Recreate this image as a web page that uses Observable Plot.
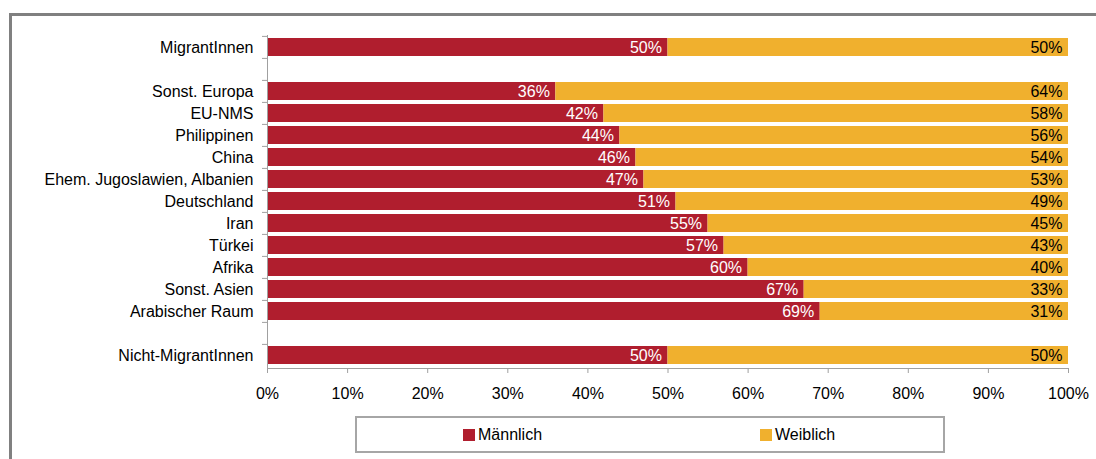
<!DOCTYPE html>
<html>
<head>
<meta charset="utf-8">
<script src="https://cdn.jsdelivr.net/npm/d3@7"></script>
<script src="https://cdn.jsdelivr.net/npm/@observablehq/plot@0.6"></script>
<style>
  body { margin: 0; overflow: hidden; background: #fff; font-family: "Liberation Sans", Arial, sans-serif; }
  #wrap { position: relative; width: 1096px; height: 459px; overflow: hidden; }
  #frame { position: absolute; left: 9px; top: 13px; width: 2000px; height: 1000px;
           border-top: 3px solid #808080; border-left: 3px solid #808080; }
  #chart { position: absolute; left: 0; top: 0; }
  #legend { position: absolute; left: 355px; top: 416px; width: 590px; height: 37px;
            border: 2px solid #a6a6a6; box-sizing: border-box; background: #fff; }
  .item { position: absolute; top: 0; height: 33px; display: flex; align-items: center;
          font-size: 16px; color: #000; }
  .sw { width: 12px; height: 12px; margin-right: 3px; }
</style>
</head>
<body>
<div id="wrap">
  <div id="frame"></div>
  <div id="chart"></div>
  <div id="legend"></div>
</div>
<script>
// Row order (top to bottom), including two empty spacer rows
const categories = ["MigrantInnen", "gap1", "Sonst. Europa", "EU-NMS", "Philippinen", "China",
  "Ehem. Jugoslawien, Albanien", "Deutschland", "Iran", "Türkei", "Afrika", "Sonst. Asien",
  "Arabischer Raum", "gap2", "Nicht-MigrantInnen"];
// Groups with data
const groups = ["MigrantInnen", "Sonst. Europa", "EU-NMS", "Philippinen", "China",
  "Ehem. Jugoslawien, Albanien", "Deutschland", "Iran", "Türkei", "Afrika", "Sonst. Asien",
  "Arabischer Raum", "Nicht-MigrantInnen"];
const maennlich = [50, 36, 42, 44, 46, 47, 51, 55, 57, 60, 67, 69, 50];
const weiblich  = [50, 64, 58, 56, 54, 53, 49, 45, 43, 40, 33, 31, 50];
const series = ["Männlich", "Weiblich"];
const colors = ["#B01E2E", "#F0B02E"];
const xTicks = [0, 10, 20, 30, 40, 50, 60, 70, 80, 90, 100];

const rows = [];
groups.forEach((g, i) => {
  rows.push({cat: g, sex: series[0], x1: 0, x2: maennlich[i], value: maennlich[i]});
  rows.push({cat: g, sex: series[1], x1: maennlich[i], x2: maennlich[i] + weiblich[i], value: weiblich[i]});
});

const axisGray = "#a0a0a0";
const chart = Plot.plot({
  width: 1096,
  height: 410,
  marginLeft: 267,
  marginRight: 28,
  marginTop: 35,
  marginBottom: 42,
  style: {fontFamily: "'Liberation Sans', Arial, sans-serif", fontSize: "16px", color: "#000", background: "transparent"},
  x: {domain: [0, 100]},
  y: {domain: categories, paddingInner: 0.18, paddingOuter: 0.09},
  color: {domain: series, range: colors},
  marks: [
    Plot.barX(rows, {y: "cat", x1: "x1", x2: "x2", fill: "sex"}),
    Plot.text(rows.filter(d => d.sex === series[0]), {y: "cat", x: "x2", text: d => d.value + "%",
      textAnchor: "end", dx: -6, fill: "white", fontSize: 16}),
    Plot.text(rows.filter(d => d.sex === series[1]), {y: "cat", x: "x2", text: d => d.value + "%",
      textAnchor: "end", dx: -6, fill: "black", fontSize: 16}),
    Plot.axisY({tickSize: 0, tickPadding: 14, label: null, tickFormat: d => d.startsWith("gap") ? "" : d, fill: "black"}),
    Plot.axisY({tickSize: 5, label: null, tickFormat: () => "", dy: -11.1, stroke: axisGray}),
    Plot.axisX({ticks: xTicks, tickSize: 5, tickPadding: 14, label: null, tickFormat: d => d + "%", stroke: axisGray, fill: "black"}),
    Plot.frame({anchor: "left", stroke: axisGray}),
    Plot.frame({anchor: "bottom", stroke: axisGray})
  ]
});
document.getElementById("chart").appendChild(chart);

// Legend
const legend = document.getElementById("legend");
const itemLeft = [106, 403];
series.forEach((s, i) => {
  const it = document.createElement("div");
  it.className = "item";
  it.style.left = itemLeft[i] + "px";
  it.innerHTML = `<span class="sw" style="background:${colors[i]}"></span><span>${s}</span>`;
  legend.appendChild(it);
});
</script>
</body>
</html>
